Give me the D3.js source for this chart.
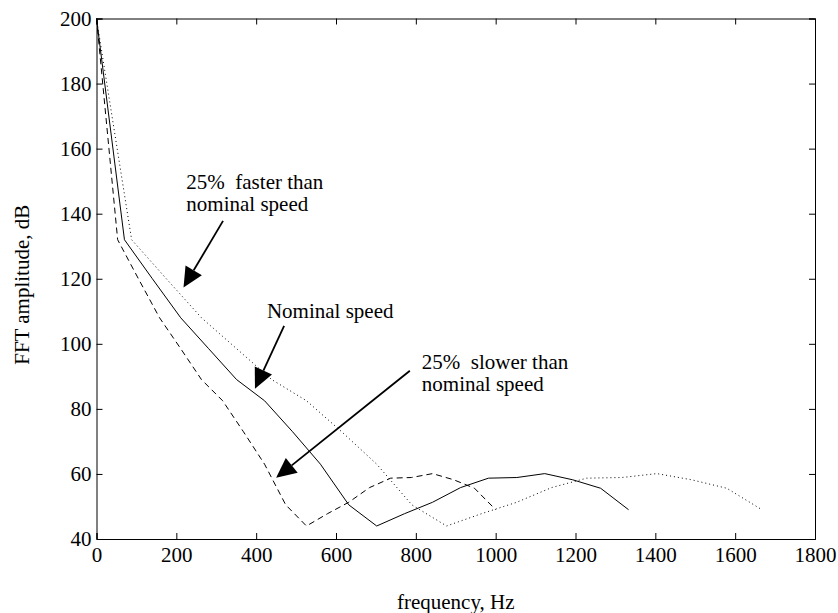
<!DOCTYPE html>
<html>
<head>
<meta charset="utf-8">
<script src="https://cdn.jsdelivr.net/npm/d3@7"></script>
<style>
  body { margin: 0; background: #fff; }
</style>
</head>
<body>
<svg width="838" height="613"></svg>
<script>
// amplitude values (dB), one per point
var freqNominal = [0, 70, 140, 211, 281, 351, 421, 491, 561, 632, 702, 772, 842, 912, 982, 1053, 1123, 1193, 1263, 1333];
var ampNominal  = [200, 132, 120, 108, 98.5, 89, 82.5, 73, 63, 50.5, 44, 47.8, 51.3, 55.8, 58.7, 58.9, 60.1, 58.2, 55.6, 49];

var freqSlow = [0, 53, 105, 158, 211, 263, 316, 368, 421, 474, 526, 579, 632, 684, 737, 789, 842, 895, 947, 1000];
var ampSlow  = [200, 132, 120, 108, 98.5, 89, 82.5, 73, 63, 50.5, 44, 47.8, 51.3, 55.8, 58.7, 58.9, 60.1, 58.2, 55.6, 49];

var freqFast = [0, 88, 175, 263, 351, 439, 526, 614, 702, 790, 877, 965, 1053, 1140, 1228, 1316, 1404, 1491, 1579, 1667];
var ampFast  = [200, 132, 120, 108, 98.5, 89, 82.5, 73, 63, 50.5, 44, 47.8, 51.3, 55.8, 58.7, 58.9, 60.1, 58.2, 55.6, 49];

var xTicks = [0, 200, 400, 600, 800, 1000, 1200, 1400, 1600, 1800];
var yTicks = [40, 60, 80, 100, 120, 140, 160, 180, 200];

// annotations: text lines and arrows in data units
var labels = [
  {lines: ["25%\u00a0 faster than", "nominal speed"], f: 225, v: 147.6},
  {lines: ["Nominal speed"], f: 427, v: 108},
  {lines: ["25%\u00a0 slower than", "nominal speed"], f: 815, v: 92.3}
];
var arrows = [
  {f0: 317, v0: 137.8, f1: 218, v1: 117.3},
  {f0: 470, v0: 105.5, f1: 397, v1: 86.2},
  {f0: 785, v0: 91.7, f1: 450, v1: 58.8}
];

var serif = '"Liberation Serif", "Times New Roman", serif';

var svg = d3.select('svg');
var margin = {left: 96.5, top: 18.5, right: 23, bottom: 74};
var width = 838 - margin.left - margin.right;
var height = 613 - margin.top - margin.bottom;

var g = svg.append('g').attr('transform', 'translate(' + margin.left + ',' + margin.top + ')');

var x = d3.scaleLinear().domain([0, 1800]).range([0, width]);
var y = d3.scaleLinear().domain([40, 200]).range([height, 0]);

var fontSize = 21;

// axes, ticks pointing inwards on all four sides
var xAxis = g.append('g').attr('transform', 'translate(0,' + height + ')')
  .call(d3.axisBottom(x).tickValues(xTicks).tickSize(-6).tickPadding(8).tickFormat(d3.format('d')));
var yAxis = g.append('g')
  .call(d3.axisLeft(y).tickValues(yTicks).tickSize(-6).tickPadding(5).tickFormat(d3.format('d')));
var xTop = g.append('g')
  .call(d3.axisTop(x).tickValues(xTicks).tickSize(-6).tickFormat(''));
var yRight = g.append('g').attr('transform', 'translate(' + width + ',0)')
  .call(d3.axisRight(y).tickValues(yTicks).tickSize(-6).tickFormat(''));

[xAxis, yAxis, xTop, yRight].forEach(function(a) {
  a.attr('font-family', serif);
  a.select('.domain').attr('stroke', '#000').attr('stroke-width', 1);
  a.selectAll('.tick line').attr('stroke', '#000');
  a.selectAll('text').attr('font-size', fontSize).attr('font-family', serif).attr('fill', '#000');
});

// series
var line = d3.line()
  .x(function(d) { return x(d[0]); })
  .y(function(d) { return y(d[1]); });

var series = [
  {f: freqNominal, a: ampNominal, dash: null},
  {f: freqSlow, a: ampSlow, dash: '6,4'},
  {f: freqFast, a: ampFast, dash: '1,3'}
];

series.forEach(function(s) {
  var pts = s.f.map(function(f, i) { return [f, s.a[i]]; });
  g.append('path')
    .datum(pts)
    .attr('d', line)
    .attr('fill', 'none')
    .attr('stroke', '#000')
    .attr('stroke-width', 1)
    .attr('stroke-dasharray', s.dash);
});

// arrows with filled heads
var headLen = 20, headHalf = 9.5;
arrows.forEach(function(a) {
  var x0 = x(a.f0), y0 = y(a.v0), x1 = x(a.f1), y1 = y(a.v1);
  var dx = x1 - x0, dy = y1 - y0;
  var len = Math.sqrt(dx * dx + dy * dy);
  var ux = dx / len, uy = dy / len;
  var bx = x1 - ux * headLen, by = y1 - uy * headLen;
  g.append('line')
    .attr('x1', x0).attr('y1', y0)
    .attr('x2', bx).attr('y2', by)
    .attr('stroke', '#000').attr('stroke-width', 1.8);
  g.append('path')
    .attr('d', 'M' + x1 + ',' + y1 +
      'L' + (bx - uy * headHalf) + ',' + (by + ux * headHalf) +
      'L' + (bx + uy * headHalf) + ',' + (by - ux * headHalf) + 'Z')
    .attr('fill', '#000');
});

labels.forEach(function(l) {
  var t = g.append('text')
    .attr('x', x(l.f))
    .attr('y', y(l.v))
    .attr('font-family', serif)
    .attr('font-size', fontSize);
  l.lines.forEach(function(s, i) {
    t.append('tspan')
      .attr('x', x(l.f))
      .attr('dy', i === 0 ? 0 : 22.5)
      .text(s);
  });
});

// axis titles
svg.append('text')
  .attr('x', margin.left + width / 2)
  .attr('y', 609)
  .attr('text-anchor', 'middle')
  .attr('font-family', serif)
  .attr('font-size', fontSize)
  .text('frequency, Hz');

svg.append('text')
  .attr('transform', 'translate(29,' + (margin.top + height / 2 + 6) + ') rotate(-90)')
  .attr('text-anchor', 'middle')
  .attr('font-family', serif)
  .attr('font-size', fontSize)
  .text('FFT amplitude, dB');
</script>
</body>
</html>
